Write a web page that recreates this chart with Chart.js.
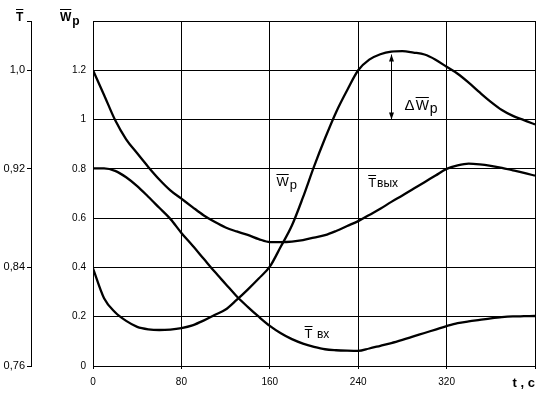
<!DOCTYPE html>
<html>
<head>
<meta charset="utf-8">
<script src="https://cdn.jsdelivr.net/npm/chart.js@4.4.1/dist/chart.umd.min.js"></script>
<style>
  body { margin: 0; background: #fff; }
  #wrap { width: 551px; height: 398px; }
</style>
</head>
<body>
<div id="wrap"><canvas id="plot" width="551" height="398"></canvas></div>
<script>
// time, s (every 10 s)
const times = [0, 10, 20, 30, 40, 50, 60, 70, 80, 90, 100, 110, 120, 130, 140, 150, 160, 170, 180, 190, 200,
    210, 220, 230, 240, 250, 260, 270, 280, 290, 300, 310, 320, 330, 340, 350, 360, 370, 380, 390, 400];

// W_p (left inner axis)
const wpValues = [0.396, 0.275, 0.218, 0.183, 0.159, 0.149, 0.146, 0.148, 0.154, 0.165, 0.184,
    0.207, 0.229, 0.268, 0.31, 0.355, 0.403, 0.485, 0.57, 0.684, 0.809,
    0.924, 1.03, 1.119, 1.2, 1.243, 1.265, 1.276, 1.278, 1.272, 1.264,
    1.243, 1.214, 1.186, 1.15, 1.11, 1.072, 1.039, 1.015, 0.998, 0.98];

// T_out (outer T axis)
const tOutValues = [1.0, 0.98, 0.9596, 0.944, 0.9326, 0.9216, 0.9114, 0.9026, 0.8958, 0.889, 0.8824,
    0.877, 0.8724, 0.8692, 0.8664, 0.863, 0.8606, 0.8606, 0.861, 0.8622, 0.8642,
    0.8662, 0.8696, 0.8736, 0.8776, 0.8826, 0.8876, 0.8932, 0.8984, 0.9038, 0.9092,
    0.9146, 0.92, 0.9228, 0.9242, 0.9236, 0.9224, 0.9208, 0.9188, 0.9168, 0.9144];

// T_in (outer T axis)
const tInValues = [0.9204, 0.9204, 0.9184, 0.9132, 0.906, 0.8974, 0.8884, 0.8794, 0.868, 0.8578, 0.8472,
    0.8366, 0.8266, 0.8166, 0.808, 0.8, 0.7926, 0.7866, 0.7818, 0.7782, 0.7756,
    0.7736, 0.7728, 0.7724, 0.7722, 0.7742, 0.7764, 0.7786, 0.7812, 0.784, 0.7868,
    0.7896, 0.7924, 0.7948, 0.7962, 0.7974, 0.7986, 0.7996, 0.8002, 0.8004, 0.8006];

const xTicks = [0, 80, 160, 240, 320, 400];
const wpTicks = [0, 0.2, 0.4, 0.6, 0.8, 1.0, 1.2, 1.4];
const tTicks = [0.76, 0.84, 0.92, 1.0, 1.04];

const tickFont = { family: '"Liberation Sans", Arial, sans-serif', size: 10 };

function pts(ys) {
    return times.map((t, i) => ({ x: t, y: ys[i] }));
}

function lineSet(ys, axis) {
    return {
        data: pts(ys),
        yAxisID: axis,
        borderColor: '#000',
        borderWidth: 2.3,
        pointRadius: 0,
        cubicInterpolationMode: 'monotone',
        fill: false
    };
}

// text with overline on the first part
function barText(ctx, left, base, main, rest, font, restFont, restDy) {
    ctx.font = font;
    ctx.fillText(main, left, base);
    let m = ctx.measureText(main);
    let top = base - m.actualBoundingBoxAscent - 2;
    ctx.fillRect(left, Math.round(top) - 1, m.width, 1);
    if (rest) {
        ctx.font = restFont || font;
        ctx.fillText(rest, left + m.width + 1, base + (restDy || 0));
    }
}

const labels = {
    id: 'labels',
    afterDatasetsDraw(chart) {
        const ctx = chart.ctx;
        const x = chart.scales.x, y = chart.scales.y;
        const f = '"Liberation Sans", Arial, sans-serif';
        ctx.save();
        ctx.fillStyle = '#000';
        ctx.strokeStyle = '#000';
        ctx.textBaseline = 'alphabetic';
        ctx.textAlign = 'left';

        // axis titles
        barText(ctx, 16, 21, 'T', '', 'bold 12px ' + f);
        barText(ctx, 60, 21, 'W', 'p', 'bold 12px ' + f, 'bold 12px ' + f, 4);

        // curve labels
        barText(ctx, x.getPixelForValue(166), y.getPixelForValue(0.73), 'W', 'p', '13px ' + f, '13px ' + f, 3);
        barText(ctx, x.getPixelForValue(249), y.getPixelForValue(0.726), 'T', 'вых', '13px ' + f, '12px ' + f, 0);
        barText(ctx, x.getPixelForValue(191.5), y.getPixelForValue(0.114), 'T', ' вх', '13px ' + f, '12px ' + f, 0);

        // delta arrow
        let i = times.indexOf(270);
        let ax = Math.round(x.getPixelForValue(270)) + 0.5;
        let y1 = y.getPixelForValue(wpValues[i]) + 3;
        let y2 = y.getPixelForValue(1.0);
        ctx.lineWidth = 1;
        ctx.beginPath();
        ctx.moveTo(ax, y1);
        ctx.lineTo(ax, y2);
        ctx.stroke();
        ctx.beginPath();
        ctx.moveTo(ax, y1);
        ctx.lineTo(ax - 2.5, y1 + 7);
        ctx.lineTo(ax + 2.5, y1 + 7);
        ctx.closePath();
        ctx.fill();
        ctx.beginPath();
        ctx.moveTo(ax, y2);
        ctx.lineTo(ax - 2.5, y2 - 7);
        ctx.lineTo(ax + 2.5, y2 - 7);
        ctx.closePath();
        ctx.fill();

        ctx.font = '15px ' + f;
        let dx = x.getPixelForValue(282);
        let dy = y.getPixelForValue(1.04);
        ctx.fillText('\u0394', dx, dy);
        let dw = ctx.measureText('\u0394').width;
        barText(ctx, dx + dw + 1, dy, 'W', 'p', '14px ' + f, '14px ' + f, 3);

        // x axis title in place of the last tick
        ctx.font = 'bold 13px ' + f;
        ctx.textAlign = 'right';
        ctx.fillText('t , c', x.getPixelForValue(400), 387);
        ctx.restore();
    }
};

new Chart(document.getElementById('plot'), {
    type: 'line',
    data: {
        datasets: [
            lineSet(tInValues, 'yT'),
            lineSet(tOutValues, 'yT'),
            lineSet(wpValues, 'y')
        ]
    },
    options: {
        responsive: false,
        animation: false,
        devicePixelRatio: 1,
        layout: { padding: { top: 21, right: 16, left: 0, bottom: 0 } },
        plugins: { legend: { display: false }, tooltip: { enabled: false } },
        scales: {
            x: {
                type: 'linear',
                min: 0,
                max: 400,
                afterBuildTicks: s => { s.ticks = xTicks.map(v => ({ value: v })); },
                afterFit: s => { s.height = 32; },
                ticks: {
                    font: tickFont,
                    color: '#000',
                    padding: 7,
                    maxRotation: 0,
                    autoSkip: false,
                    callback: v => v === 400 ? '' : String(v)
                },
                grid: { color: '#000', lineWidth: 1, tickLength: 3 },
                border: { color: '#000' }
            },
            y: {
                position: 'left',
                weight: 0,
                min: 0,
                max: 1.4,
                afterBuildTicks: s => { s.ticks = wpTicks.map(v => ({ value: v })); },
                afterFit: s => { s.width = 62; },
                ticks: {
                    font: tickFont,
                    color: '#000',
                    padding: 7,
                    callback: v => Math.abs(v - 1.4) < 1e-6 ? '' : String(Math.round(v * 10) / 10)
                },
                grid: { color: '#000', lineWidth: 1, drawTicks: false },
                border: { color: '#000' }
            },
            yT: {
                position: 'left',
                weight: 1,
                min: 0.76,
                max: 1.04,
                afterBuildTicks: s => { s.ticks = tTicks.map(v => ({ value: v })); },
                afterFit: s => { s.width = 31; },
                ticks: {
                    font: { family: '"Liberation Sans", Arial, sans-serif', size: 11 },
                    color: '#000',
                    padding: 2,
                    callback: v => {
                        if (Math.abs(v - 1.04) < 1e-6) return '';
                        if (Math.abs(v - 1.0) < 1e-6) return '1,0';
                        return v.toFixed(2).replace('.', ',');
                    }
                },
                grid: { color: '#000', lineWidth: 1, drawOnChartArea: false, tickLength: 4 },
                border: { color: '#000' }
            }
        }
    },
    plugins: [labels]
});
</script>
</body>
</html>
